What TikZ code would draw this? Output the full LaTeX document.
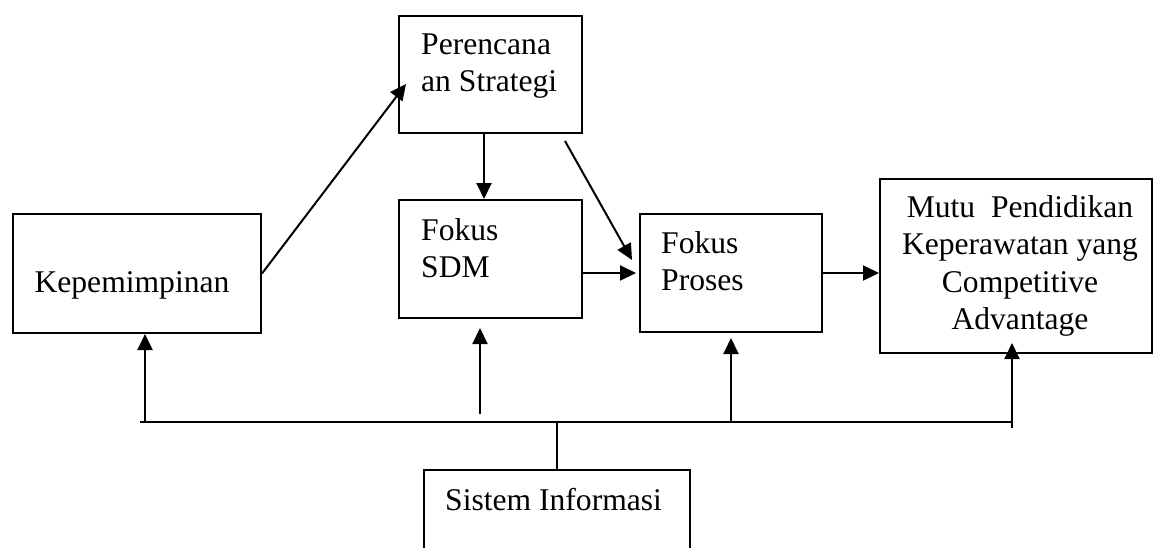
\documentclass[tikz,border=0pt]{standalone}
\usepackage{fontspec}
\setmainfont{Liberation Serif}
\usepackage{tikz}
\usetikzlibrary{positioning,calc,arrows.meta}

\begin{document}
\begin{tikzpicture}[x=1pt, y=-1pt,
    box/.style={draw, line width=2pt, inner sep=0pt},
    txt/.style={inner sep=0pt, font=\fontsize{31.6}{37.5}\selectfont},
    arr/.style={line width=2pt, -{Triangle[length=16pt,width=15pt]}}]
    \clip (0,0) rectangle (1154,547);
    % Riquadri
    \node[box, minimum width=248pt, minimum height=119pt] (kep) at (137,273.5) {};
    \node[box, minimum width=183pt, minimum height=117pt] (rencana) at (490.5,74.5) {};
    \node[box, minimum width=183pt, minimum height=118pt] (sdm) at (490.5,259) {};
    \node[box, minimum width=182pt, minimum height=118pt] (proses) at (731,273) {};
    \node[box, minimum width=272pt, minimum height=174pt] (mutu) at (1016,266) {};
    \node[box, minimum width=266pt, minimum height=100pt] (sistem) at (557,520) {};

    % Testi
    \node[txt, anchor=base] (kepT) at (132,292) {Kepemimpinan};
    \node[txt, anchor=north west, align=left] (rencanaT) at (421,27.75) {\strut Perencana\\an Strategi};
    \node[txt, anchor=north west, align=left] (sdmT) at (421,213.75) {\strut Fokus\\SDM};
    \node[txt, anchor=north west, align=left] (prosesT) at (661,226.75) {\strut Fokus\\Proses};
    \node[txt, anchor=north, align=center] (mutuT) at (1020,190.75) {\strut Mutu~ Pendidikan\\Keperawatan yang\\Competitive\\Advantage};
    \node[txt, anchor=base west] (sistemT) at (445,510) {Sistem Informasi};

    % Frecce principali
    \draw[arr] (kep.east) -- ($(rencana.west)+(8,9.5)$);
    \draw[arr] ($(rencana.south)+(-6.5,0)$) -- ($(sdm.north)+(-6.5,0)$);
    \draw[arr] ($(rencana.south east)+(-18,7)$) -- ($(proses.west)+(-7,-13)$);
    \draw[arr, shorten >=3pt] (sdm.east |- proses.west) -- (proses.west);
    \draw[arr] (proses.east) -- (mutu.west |- proses.east);

    % Linea di sistem informasi
    \coordinate (busL) at (140,422);
    \coordinate (busR) at (1013,422);
    \draw[line width=2pt] (busL) -- (busR);
    \draw[line width=2pt] (sistem.north) -- (sistem.north |- busL);
    \coordinate (k1) at ($(kep.south)+(8,0)$);
    \draw[arr] (k1 |- busL) -- (k1);
    \draw[arr] ($(sdm.south)+(-10.5,95)$) -- ($(sdm.south)+(-10.5,9)$);
    \draw[arr, shorten >=5pt] (proses.south |- busL) -- (proses.south);
    \draw[arr] ($(mutu.south)+(-4,74)$) -- ($(mutu.south)+(-4,-11)$);
\end{tikzpicture}
\end{document}
